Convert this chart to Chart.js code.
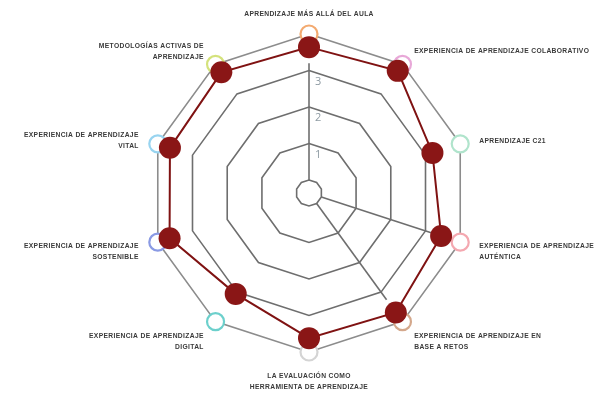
<!DOCTYPE html>
<html><head><meta charset="utf-8">
<script src="https://cdn.jsdelivr.net/npm/chart.js@4"></script>
<style>html,body{margin:0;padding:0;background:#fff}#wrap{width:613px;height:393px}</style>
</head><body><div id="wrap"><canvas id="c" width="613" height="393"></canvas></div>
<script>
const categories = [
  ['APRENDIZAJE MÁS ALLÁ DEL AULA'],
  ['EXPERIENCIA DE APRENDIZAJE COLABORATIVO'],
  ['APRENDIZAJE C21'],
  ['EXPERIENCIA DE APRENDIZAJE', 'AUTÉNTICA'],
  ['EXPERIENCIA DE APRENDIZAJE EN', 'BASE A RETOS'],
  ['LA EVALUACIÓN COMO', 'HERRAMIENTA DE APRENDIZAJE'],
  ['EXPERIENCIA DE APRENDIZAJE', 'DIGITAL'],
  ['EXPERIENCIA DE APRENDIZAJE', 'SOSTENIBLE'],
  ['EXPERIENCIA DE APRENDIZAJE', 'VITAL'],
  ['METODOLOGÍAS ACTIVAS DE', 'APRENDIZAJE']
];
const scores = [3.64, 3.78, 3.2, 3.45, 3.69, 3.62, 3.06, 3.66, 3.65, 3.73];
const outerRing = [4, 4, 4, 4, 4, 4, 4, 4, 4, 4];
const spokeEnds = [3.2, null, null, 3.45, 3.26, null, null, null, null, null];
const tickValues = [0, 1, 2, 3, 4];
const tickLabels = [null, '1', '2', '3', null];
const ringColors = ['#f3aa70', '#e8a8d8', '#b0e4cc', '#f4a8b0', '#d4a88c', '#d4d4d4', '#6cd0cc', '#8a9ae4', '#98d4f0', '#d4e27c'];

const deco = {
  id: 'deco',
  beforeDatasetsDraw(chart) {
    const s = chart.scales.r, ctx = chart.ctx;
    ctx.save();
    ctx.strokeStyle = '#6e6e6e';
    ctx.lineWidth = 1.6;
    spokeEnds.forEach((v, i) => {
      if (v === null) return;
      const a = s.getPointPositionForValue(i, 0);
      const b = s.getPointPositionForValue(i, v);
      ctx.beginPath(); ctx.moveTo(a.x, a.y); ctx.lineTo(b.x, b.y); ctx.stroke();
    });
    ctx.fillStyle = '#8d9aa2';
    ctx.font = '11px "Open Sans", sans-serif';
    ctx.textAlign = 'left'; ctx.textBaseline = 'middle';
    tickValues.forEach((v, k) => {
      if (!tickLabels[k]) return;
      const p = s.getPointPositionForValue(0, v);
      ctx.fillText(tickLabels[k], p.x + 6, p.y + 11);
    });
    ctx.restore();
  },
  afterDatasetsDraw(chart) {
    const s = chart.scales.r, ctx = chart.ctx;
    const rOut = s.getDistanceFromCenterForValue(4);
    ctx.save();
    ctx.fillStyle = '#3a3a3a';
    ctx.font = 'bold 8px "Liberation Sans", "DejaVu Sans", sans-serif';
    try { ctx.letterSpacing = '0.4px'; } catch (e) {}
    const lh = 11, sx = 0.84;
    categories.forEach((lines, i) => {
      const deg = Math.round(s.getIndexAngle(i) * 180 / Math.PI) % 360;
      const p = s.getPointPosition(i, rOut + 20);
      let align, y0;
      const n = lines.length;
      if (deg === 0) { align = 'center'; y0 = p.y - (n - 1) * lh; }
      else if (deg === 180) { align = 'center'; y0 = p.y + 4; }
      else { align = deg < 180 ? 'left' : 'right'; y0 = p.y - (n - 1) * lh / 2 + 3; }
      ctx.textAlign = align; ctx.textBaseline = 'middle';
      lines.forEach((t, k) => {
        ctx.save();
        ctx.translate(p.x, y0 + k * lh);
        ctx.scale(sx, 1);
        ctx.fillText(t, 0, 0);
        ctx.restore();
      });
    });
    ctx.restore();
  }
};

new Chart(document.getElementById('c'), {
  type: 'radar',
  data: {
    labels: categories,
    datasets: [
      {
        data: scores,
        borderColor: '#7f1212',
        borderWidth: 2,
        pointRadius: 11,
        pointBackgroundColor: '#8a1616',
        pointBorderWidth: 0,
        fill: false
      },
      {
        data: outerRing,
        borderColor: '#8c8c8c',
        borderWidth: 1.6,
        pointRadius: 8.5,
        pointBackgroundColor: '#ffffff',
        pointBorderColor: ringColors,
        pointBorderWidth: 2.2,
        fill: false
      }
    ]
  },
  options: {
    responsive: false,
    animation: false,
    layout: { padding: { left: 5, right: 0, top: 34, bottom: 41 } },
    plugins: { legend: { display: false }, tooltip: { enabled: false } },
    scales: {
      r: {
        min: -0.356,
        max: 4,
        afterBuildTicks: sc => { sc.ticks = tickValues.map(v => ({ value: v })); },
        ticks: { display: false },
        pointLabels: { display: false },
        angleLines: { display: false },
        grid: {
          color: c => (c.tick && c.tick.value === 4) ? 'rgba(0,0,0,0)' : '#6e6e6e',
          lineWidth: 1.6
        }
      }
    }
  },
  plugins: [deco]
});
</script>
</body></html>
